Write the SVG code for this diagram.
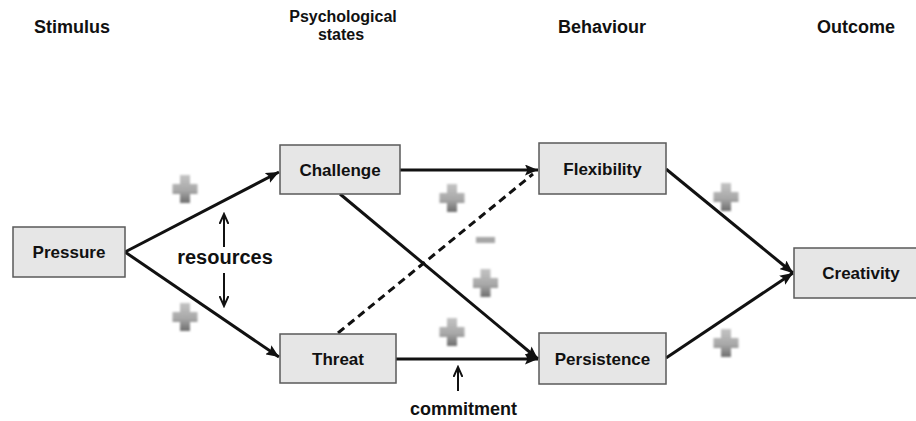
<svg xmlns="http://www.w3.org/2000/svg" xmlns:xlink="http://www.w3.org/1999/xlink" width="916" height="421" viewBox="0 0 916 421">
  <style>
    .head { font-family: "Liberation Sans", Arial, sans-serif; font-weight: bold; font-size: 18px; fill: #111; text-anchor: middle; }
    .head2 { font-family: "Liberation Sans", Arial, sans-serif; font-weight: bold; font-size: 16px; fill: #111; text-anchor: middle; }
    .node rect { fill: #e6e6e6; stroke: #5a5a5a; stroke-width: 1.5; }
    .node text { font-family: "Liberation Sans", Arial, sans-serif; font-weight: bold; font-size: 17px; fill: #111; text-anchor: middle; }
    .note { font-family: "Liberation Sans", Arial, sans-serif; font-weight: bold; fill: #111; text-anchor: middle; }
    .edge { fill: none; stroke: #111; stroke-width: 3; }
    .dash { stroke-dasharray: 8 5; }
    .thin { fill: none; stroke: #111; stroke-width: 2; }
  </style>
  <defs>
    <marker id="arrow" markerUnits="userSpaceOnUse" markerWidth="14" markerHeight="11" refX="13" refY="5.5" orient="auto">
      <path d="M0,0 L13,5.5 L0,11 L2.5,5.5 z" fill="#111"/>
    </marker>
    <marker id="tick" markerUnits="userSpaceOnUse" markerWidth="12" markerHeight="10" refX="10" refY="5" orient="auto">
      <path d="M0,0.5 L10,5 L0,9.5" fill="none" stroke="#111" stroke-width="2"/>
    </marker>
    <linearGradient id="signFill" x1="0" y1="0" x2="0" y2="1">
      <stop offset="0" stop-color="#c4c4c4"/>
      <stop offset="0.55" stop-color="#a8a8a8"/>
      <stop offset="1" stop-color="#6e6e6e"/>
    </linearGradient>
    <filter id="soft" x="-30%" y="-30%" width="160%" height="160%">
      <feGaussianBlur stdDeviation="1.1"/>
    </filter>
    <path id="plus" d="M-5,-14 h10 v9 h7.5 v10 h-7.5 v9 h-10 v-9 h-7.5 v-10 h7.5 z" fill="url(#signFill)" filter="url(#soft)"/>
    <rect id="minus" x="-9.5" y="-3" width="19" height="6" fill="#a6a6a6" filter="url(#soft)"/>
  </defs>

  <rect width="916" height="421" fill="#fff"/>

  <!-- column headings -->
  <g id="headings">
    <text class="head" x="72" y="33">Stimulus</text>
    <text class="head2" x="343" y="22">Psychological</text>
    <text class="head2" x="341" y="40">states</text>
    <text class="head" x="602" y="33">Behaviour</text>
    <text class="head" x="856" y="33">Outcome</text>
  </g>

  <!-- connectors -->
  <g id="connectors">
    <line class="edge" x1="125" y1="252" x2="279" y2="172" marker-end="url(#arrow)"/>
    <line class="edge" x1="125" y1="252" x2="279" y2="357" marker-end="url(#arrow)"/>
    <line class="edge" x1="400" y1="170" x2="538" y2="170" marker-end="url(#arrow)"/>
    <line class="edge" x1="340" y1="194" x2="538" y2="359" marker-end="url(#arrow)"/>
    <line class="edge dash" x1="338" y1="333" x2="533" y2="174"/>
    <line class="edge" x1="396" y1="359" x2="538" y2="359" marker-end="url(#arrow)"/>
    <line class="edge" x1="666" y1="169" x2="793" y2="273" marker-end="url(#arrow)"/>
    <line class="edge" x1="666" y1="358" x2="793" y2="273" marker-end="url(#arrow)"/>
    <!-- moderators -->
    <line class="thin" x1="224" y1="247" x2="224" y2="214" marker-end="url(#tick)"/>
    <line class="thin" x1="224" y1="273" x2="224" y2="306" marker-end="url(#tick)"/>
    <line class="thin" x1="458" y1="391" x2="458" y2="367" marker-end="url(#tick)"/>
  </g>

  <!-- effect signs -->
  <g id="signs">
    <use xlink:href="#plus" x="185" y="189"/>
    <use xlink:href="#plus" x="185" y="317"/>
    <use xlink:href="#plus" x="452" y="198"/>
    <use xlink:href="#minus" x="485.5" y="240"/>
    <use xlink:href="#plus" x="485.5" y="283"/>
    <use xlink:href="#plus" x="452" y="332"/>
    <use xlink:href="#plus" x="726" y="197"/>
    <use xlink:href="#plus" x="726" y="343"/>
  </g>

  <text class="note" x="225" y="264" style="font-size:20px">resources</text>
  <text class="note" x="463.5" y="415" style="font-size:18px">commitment</text>

  <!-- nodes -->
  <g id="pressure" class="node">
    <rect x="13" y="227" width="112" height="50"/>
    <text x="69" y="258">Pressure</text>
  </g>
  <g id="challenge" class="node">
    <rect x="280" y="145" width="120" height="49"/>
    <text x="340" y="176">Challenge</text>
  </g>
  <g id="threat" class="node">
    <rect x="280" y="334" width="116" height="49"/>
    <text x="338" y="365">Threat</text>
  </g>
  <g id="flexibility" class="node">
    <rect x="539" y="143" width="127" height="51"/>
    <text x="602.5" y="175">Flexibility</text>
  </g>
  <g id="persistence" class="node">
    <rect x="539" y="333" width="127" height="51"/>
    <text x="602.5" y="365">Persistence</text>
  </g>
  <g id="creativity" class="node">
    <rect x="794" y="248" width="134" height="50"/>
    <text x="861" y="279">Creativity</text>
  </g>
</svg>
